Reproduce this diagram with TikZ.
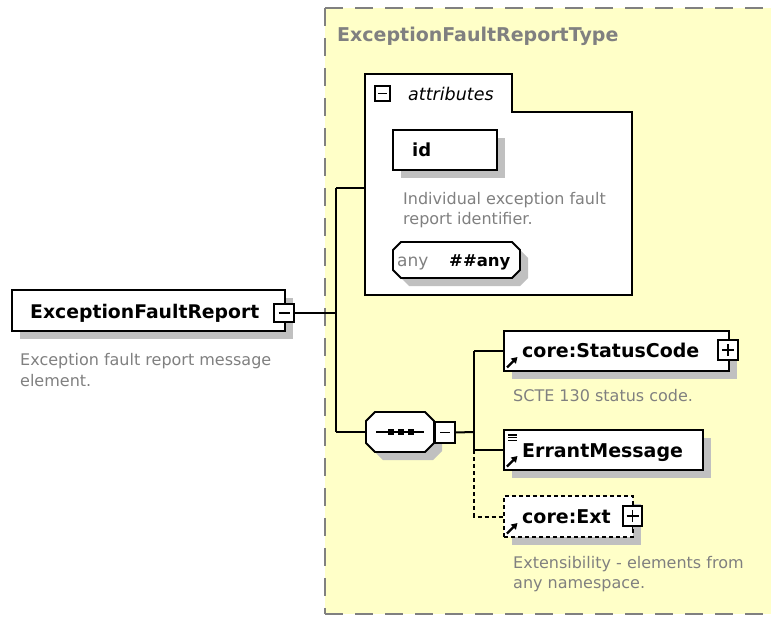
\documentclass[tikz,border=0pt]{standalone}
\usepackage{fontspec}
\setmainfont{DejaVu Sans}
\usetikzlibrary{arrows.meta}
\definecolor{bgyellow}{RGB}{255,255,200}
\definecolor{shadowgray}{RGB}{192,192,192}
\definecolor{titlegray}{RGB}{128,128,128}
\definecolor{descgray}{RGB}{128,128,128}
\definecolor{dashgray}{RGB}{128,128,128}
\newcommand{\myfs}[1]{\fontsize{#1}{#1}\selectfont}
\tikzset{
  elbox/.style={draw=black, line width=2pt, fill=white, rectangle, anchor=north west, inner sep=0pt, outer sep=0pt},
  smallbox/.style={draw=black, line width=1.3pt, fill=white, rectangle, inner sep=0pt, outer sep=0pt, minimum width=19pt, minimum height=19pt},
  conn/.style={draw=black, line width=2pt},
  namelbl/.style={anchor=base west, inner sep=0pt, font=\bfseries\myfs{19}},
  desc/.style={anchor=base west, inner sep=0pt, text=descgray, font=\myfs{16}},
  ghost/.style={draw=none, rectangle, anchor=north west, inner sep=0pt, outer sep=0pt},
  sign/.style={line width=1.8pt},
  refarrow/.style={line width=2.4pt, -{Triangle[length=6pt,width=7pt]}},
  typeborder/.style={draw=dashgray, line width=2pt, dash pattern=on 18pt off 12pt},
}
% element box with drop shadow: [style] name x1 y1 x2 y2
\newcommand{\elem}[6][]{%
  \fill[shadowgray] ({#3+8},{#4+8}) rectangle ({#5+8},{#6+8});
  \node[elbox,#1,minimum width={#5-#3},minimum height={#6-#4}] (#2) at (#3,#4) {};}
% octagon with drop shadow: name x1 y1 x2 y2 chamfer
\newcommand{\octa}[6]{%
  \fill[shadowgray, shift={(8,8)}] ({#2+#6},#3) -- ({#4-#6},#3) -- (#4,{#3+#6}) -- (#4,{#5-#6}) -- ({#4-#6},#5) -- ({#2+#6},#5) -- (#2,{#5-#6}) -- (#2,{#3+#6}) -- cycle;
  \draw[line width=1.8pt, fill=white] ({#2+#6},#3) -- ({#4-#6},#3) -- (#4,{#3+#6}) -- (#4,{#5-#6}) -- ({#4-#6},#5) -- ({#2+#6},#5) -- (#2,{#5-#6}) -- (#2,{#3+#6}) -- cycle;
  \node[ghost,minimum width={#4-#2},minimum height={#5-#3}] (#1) at (#2,#3) {};}
\begin{document}
\begin{tikzpicture}[x=1pt,y=-1pt]
\useasboundingbox (0,0) rectangle (771,616);
\fill[white] (-6,-6) rectangle (800,625);

% complex type area (runs past the right edge, open on the right)
\fill[bgyellow] (325,8) rectangle (800,614);
\coordinate (ctNE) at (800,8);
\coordinate (ctNW) at (325,8);
\coordinate (ctSW) at (325,614);
\coordinate (ctSE) at (800,614);
\draw[typeborder] (ctNW) -- (ctNE);
\draw[typeborder] (ctNW) -- (ctSW);
\draw[typeborder] (ctSW) -- (ctSE);
\fill[bgyellow] (740,10) rectangle (800,612);
\node[anchor=base west, inner sep=0pt, font=\bfseries\myfs{19}, text=titlegray] (ctitle) at (337,41.5) {ExceptionFaultReportType};

% root element
\elem{main}{12}{290}{285}{331}
\node[namelbl, font=\bfseries\myfs{18.8}] (mainlbl) at (30,318) {ExceptionFaultReport};
\node[smallbox, minimum width=20, minimum height=18] (mainminus) at (284,313) {};
\draw[sign] ([xshift=-5.5pt]mainminus.center) -- ([xshift=5.5pt]mainminus.center);
\node[desc] (maindesc1) at (20,365) {Exception fault report message};
\node[desc] (maindesc2) at (20,386.5) {element.};

% attributes
\node[ghost, minimum width=267, minimum height=221] (attrs) at (365,74) {};
\draw[line width=1.8pt, fill=white] (365,74) -- (512,74) -- (512,112) -- (632,112) -- (632,295) -- (365,295) -- cycle;
\node[smallbox, line width=1.2pt, minimum width=15, minimum height=15] (attrminus) at (382.5,93.5) {};
\draw[line width=1.3pt] ([xshift=-4.5pt]attrminus.center) -- ([xshift=4.5pt]attrminus.center);
\node[anchor=base west, inner sep=0pt, font=\itshape\myfs{17.5}] (attrlbl) at (408,100) {attributes};

\elem{id}{393}{130}{497}{170}
\node[namelbl, font=\bfseries\myfs{18}] (idlbl) at (412,156.5) {id};
\node[desc] (iddesc1) at (403,204) {Individual exception fault};
\node[desc] (iddesc2) at (403,224) {report identifier.};

\octa{anyattr}{393}{242}{520}{278}{8}
\node[anchor=base west, inner sep=0pt, font=\myfs{17}, text=descgray] (anylbl) at (397,266) {any};
\node[anchor=base west, inner sep=0pt, font=\bfseries\myfs{16.5}] (anyns) at (449,266) {\#\#any};

% sequence compositor
\octa{seq}{366}{412}{434}{452}{9}
\draw[line width=1.8pt] (376,432) -- (424,432);
\foreach \dx in {390.5,400.5,410.5} \fill (\dx-3,429) rectangle (\dx+3,435);
\node[smallbox, minimum width=20, minimum height=21] (seqminus) at (445,432.5) {};
\draw[line width=1.3pt] ([xshift=-5pt]seqminus.center) -- ([xshift=5pt]seqminus.center);

% children
\elem{sc}{504}{331}{729}{371}
\node[namelbl] (sclbl) at (522,357) {core:StatusCode};
\node[smallbox, minimum width=20, minimum height=20] (scplus) at (728,350) {};
\draw[line width=1.3pt] ([xshift=-6pt]scplus.center) -- ([xshift=6pt]scplus.center)
      ([yshift=-6pt]scplus.center) -- ([yshift=6pt]scplus.center);
\draw[refarrow] ([xshift=3pt,yshift=3.5pt]sc.south west) -- ([xshift=13.5pt,yshift=14pt]sc.south west);
\node[desc] (scdesc) at (513,401.5) {SCTE 130 status code.};

\elem{em}{504}{430}{703}{470}
\node[namelbl] (emlbl) at (522,457) {ErrantMessage};
\draw[line width=1.1pt] (508,435) -- (517,435) (508,437.8) -- (517,437.8) (508,440.6) -- (517,440.6);
\draw[refarrow] ([xshift=3pt,yshift=3.5pt]em.south west) -- ([xshift=13.5pt,yshift=14pt]em.south west);

\elem[dash pattern=on 4pt off 3pt]{ext}{504}{496}{633}{537}
\node[namelbl] (extlbl) at (522,523) {core:Ext};
\node[smallbox, minimum width=19, minimum height=20] (extplus) at (632.5,516) {};
\draw[line width=1.3pt] ([xshift=-6pt]extplus.center) -- ([xshift=6pt]extplus.center)
      ([yshift=-6pt]extplus.center) -- ([yshift=6pt]extplus.center);
\draw[line width=1.3pt] (extplus.south) -- ++(0,6);
\draw[refarrow] ([xshift=3pt,yshift=3.5pt]ext.south west) -- ([xshift=13.5pt,yshift=14pt]ext.south west);
\node[desc] (extdesc1) at (513,568.3) {Extensibility - elements from};
\node[desc] (extdesc2) at (513,588.5) {any namespace.};

% connectors
\coordinate (j1) at (336,313);
\coordinate (j2) at (474,432);
\draw[conn] (mainminus.east) -- (j1);
\draw[conn] ([yshift=-3pt]attrs.west -| j1) -- (j1 |- seq.west);
\draw[conn] ([yshift=-3pt]attrs.west -| j1) -- ([yshift=-3pt]attrs.west);
\draw[conn] (j1 |- seq.west) -- (seq.west);
\draw[conn] (seqminus.east) -- (j2);
\draw[conn] (j2 |- sc.west) -- (j2 |- em.west);
\draw[conn] (j2 |- sc.west) -- (sc.west);
\draw[conn] (j2 |- em.west) -- (em.west);
\draw[conn, dash pattern=on 4pt off 3pt] (j2 |- em.west) -- (j2 |- ext.west) -- (ext.west);
\end{tikzpicture}
\end{document}
